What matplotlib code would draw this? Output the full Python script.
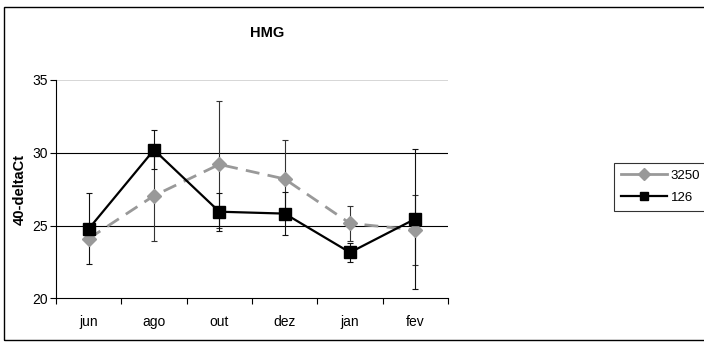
import matplotlib
matplotlib.use("Agg")
import matplotlib.pyplot as plt
from matplotlib.patches import Rectangle
import numpy as np

plt.rcParams['font.family'] = ['Liberation Sans Narrow', 'Liberation Sans', 'DejaVu Sans']

months = ["jun", "ago", "out", "dez", "jan", "fev"]
s3250 = [24.1, 27.05, 29.2, 28.2, 25.15, 24.7]
s3250_err = [0.0, 3.1, 4.35, 2.65, 1.2, 2.4]
s126 = [24.77, 30.2, 25.95, 25.82, 23.15, 25.46]
s126_err = [2.44, 1.34, 1.3, 1.5, 0.66, 4.8]
yticks = [20, 25, 30, 35]

fig = plt.figure(figsize=(7.04, 3.42), dpi=100)
fig.patches.append(Rectangle((4/704, 1-340/342), 1.2, (340-7)/342, transform=fig.transFigure,
                             fill=False, edgecolor='black', linewidth=1.0))
ax = fig.add_axes([56/704, 1-298.3/342, (448-56)/704, (298.3-80)/342])

x = np.arange(len(months))
ax.errorbar(x, s3250, yerr=s3250_err, fmt='none', ecolor='#333333', elinewidth=0.8, capsize=2.5, capthick=0.8, zorder=2)
ax.errorbar(x, s126, yerr=s126_err, fmt='none', ecolor='#111111', elinewidth=0.8, capsize=2.5, capthick=0.8, zorder=2)
ax.plot(x, s3250, color='#999999', linestyle=(0, (5, 3)), linewidth=2.0, marker='D', markersize=7,
        markerfacecolor='#999999', markeredgecolor='#999999', label='3250', zorder=3)
ax.plot(x, s126, color='black', linewidth=1.6, marker='s', markersize=8.5,
        markerfacecolor='black', markeredgecolor='black', label='126', zorder=4)

ax.set_xlim(-0.5, len(months) - 0.5)
ax.set_ylim(20, 35)
ax.set_yticks(yticks)
ax.set_xticks(x)
ax.set_xticklabels(months)
ax.set_xticks(np.arange(-0.5, len(months)), minor=True)
ax.tick_params(axis='x', which='major', length=0, pad=12, labelsize=10)
ax.tick_params(axis='x', which='minor', length=4, direction='out', width=0.8)
ax.tick_params(axis='y', length=4, direction='out', width=0.8, labelsize=10, pad=2)

for y in [25, 30]:
    ax.axhline(y, color='black', linewidth=0.8, zorder=1)
ax.axhline(35, color='#d0d0d0', linewidth=1.2, zorder=1)

ax.spines['top'].set_visible(False)
ax.spines['right'].set_visible(False)
ax.spines['left'].set_linewidth(0.8)
ax.spines['bottom'].set_linewidth(0.8)

ax.set_ylabel('40-deltaCt', fontsize=10.5, fontweight='bold', family=['Liberation Sans', 'DejaVu Sans'])
ax.yaxis.set_label_coords(-0.074, 0.5)
fig.text(267/704, 1-33/342, 'HMG', ha='center', va='center', fontsize=10.5, fontweight='bold',
         family=['Liberation Sans', 'DejaVu Sans'])

leg = fig.legend(loc='upper left', bbox_to_anchor=(614/704, 1-163/342), frameon=True, fancybox=False,
                 edgecolor='black', fontsize=9.5, handlelength=3.5, handletextpad=0.3, borderpad=0.5,
                 labelspacing=0.75, borderaxespad=0)
leg.get_frame().set_linewidth(0.8)
for h in leg.legend_handles:
    h.set_markersize(6)
    h.set_linestyle('-')

fig.savefig('out.png', dpi=100)
